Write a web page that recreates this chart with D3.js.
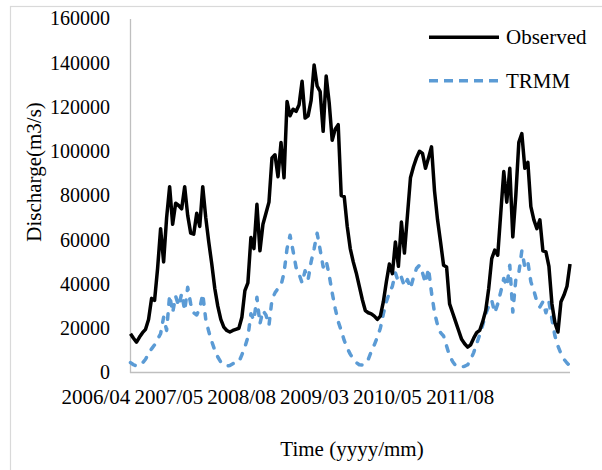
<!DOCTYPE html>
<html>
<head>
<meta charset="utf-8">
<script src="https://cdn.jsdelivr.net/npm/d3@7"></script>
<style>
  body { margin: 0; background: #fff; }
  svg { display: block; font-family: "Liberation Serif", "Times New Roman", serif; }
</style>
</head>
<body>
<svg width="602" height="470"></svg>
<script>
// values (m3/s), one point every step along the time axis
var observed = [
  17500, 15500, 13700, 16000, 18000, 19500, 24000, 33500, 32600, 47000,
  65000, 50000, 70000, 84000, 67000, 76500, 75500, 74000, 84000, 71000,
  63000, 62500, 72000, 66000, 84000, 70000, 59000, 49000, 38000, 30000,
  24000, 20500, 19000, 18300, 19000, 19500, 20000, 25000, 37000, 40500,
  61000, 56000, 76000, 55000, 67000, 72000, 77000, 97000, 98400, 88500,
  104000, 88000, 122500, 116000, 119000, 118000, 121000, 131600, 115000, 116000,
  123000, 139000, 129500, 127000, 109000, 134000, 122000, 105000, 110000, 112000,
  80000, 79500, 66000, 56000, 50000, 45000, 39000, 33000, 28000, 27000,
  26500, 25500, 24000, 25500, 32000, 41000, 49000, 44700, 59000, 48000,
  68000, 54000, 71000, 88000, 93000, 97000, 100000, 99000, 92300, 97000,
  102000, 82000, 69000, 59000, 48500, 47700, 31000, 27000, 23000, 19000,
  15000, 13000, 11500, 12500, 15500, 18000, 19000, 23000, 28000, 38000,
  51500, 55300, 53000, 72000, 90800, 77000, 92300, 61300, 80000, 104000,
  108000, 92300, 95000, 75000, 69000, 65000, 69000, 55000, 54500, 48000,
  31000, 22500, 18300, 32000, 35000, 39000, 49000
];
var trmm = [
  4500, 3500, 2900, 3300, 4300, 6000, 8500, 10700, 12500, 15000,
  17500, 25000, 19000, 35000, 27000, 34500, 30000, 35700, 28000, 38500,
  31000, 27000, 26000, 29000, 35500, 24000, 18500, 14000, 10000, 7000,
  4700, 3500, 2900, 3200, 4000, 4300, 4700, 8000, 11500, 16000,
  26600, 23600, 34000, 22000, 28000, 26000, 21300, 33000, 36000, 38000,
  39400, 45000, 56000, 62000, 55000, 47500, 44500, 40500, 46000, 42000,
  50000, 56000, 62900, 55500, 47700, 50500, 44000, 36000, 29000, 23000,
  19000, 14500, 11000, 8300, 6000, 4500, 3500, 3400, 3900, 6000,
  9500, 12500, 16000, 20000, 26500, 32000, 36000, 39000, 45000, 41000,
  43000, 39000, 42000, 38000, 43000, 47000, 48500, 45000, 40500, 47000,
  36000, 27000, 21500, 18000, 16500, 12000, 7500, 5000, 3100, 2500,
  2500, 2800, 3500, 5800, 9000, 13000, 17000, 21500, 26500, 30000,
  32600, 27000, 31000, 36500, 42500, 39000, 48500, 27300, 42000, 45000,
  55000, 47700, 50000, 41000, 37000, 32000, 29600, 32000, 27000, 32000,
  24000, 16500, 12000, 8500, 6000, 4300, 3000
];
var xLabels = ["2006/04", "2007/05", "2008/08", "2009/03", "2010/05", "2011/08"];
var yTicks = [0, 20000, 40000, 60000, 80000, 100000, 120000, 140000, 160000];
var seriesNames = ["Observed", "TRMM"];

var svg = d3.select("svg");
var blue = "#5b9bd5";

// chart border (runs off the right and bottom of the picture)
svg.append("rect")
  .attr("x", 10.5).attr("y", 6.5)
  .attr("width", 700).attr("height", 600)
  .attr("fill", "none").attr("stroke", "#d9d9d9").attr("stroke-width", 1.2);

var x = d3.scaleLinear().domain([0, observed.length - 1]).range([130.5, 570]);
var y = d3.scaleLinear().domain([0, 160000]).range([372.5, 18.5]);

// y axis
var yAxis = svg.append("g")
  .attr("transform", "translate(130,0)")
  .call(d3.axisLeft(y).tickValues(yTicks).tickSize(0).tickPadding(20).tickFormat(d3.format("d")));
yAxis.select(".domain").attr("stroke", "#bfbfbf").attr("stroke-width", 1.3);
yAxis.selectAll("text")
  .attr("font-family", "Liberation Serif, Times New Roman, serif")
  .attr("font-size", 20).attr("fill", "#000");

// x axis line
svg.append("line")
  .attr("x1", x(0) - 0.5).attr("x2", x(observed.length - 1))
  .attr("y1", y(0)).attr("y2", y(0))
  .attr("stroke", "#bfbfbf").attr("stroke-width", 1.3);

// category labels under the axis
var xb = d3.scaleBand().domain(xLabels).range([59.5, 496.7]);
var xAxis = svg.append("g")
  .attr("transform", "translate(0," + y(0) + ")")
  .call(d3.axisBottom(xb).tickSize(0).tickPadding(17));
xAxis.select(".domain").remove();
xAxis.selectAll("text")
  .attr("font-family", "Liberation Serif, Times New Roman, serif")
  .attr("font-size", 21).attr("fill", "#000");

// axis titles
svg.append("text")
  .attr("x", 352).attr("y", 456)
  .attr("text-anchor", "middle")
  .attr("font-size", 21)
  .text("Time (yyyy/mm)");
svg.append("text")
  .attr("transform", "translate(41,172) rotate(-90)")
  .attr("text-anchor", "middle")
  .attr("font-size", 21)
  .text("Discharge(m3/s)");

var line = d3.line()
  .x(function (d, i) { return x(i); })
  .y(function (d) { return y(d); });

svg.append("path")
  .datum(trmm)
  .attr("d", line)
  .attr("fill", "none")
  .attr("stroke", blue)
  .attr("stroke-width", 3.5)
  .attr("stroke-dasharray", "5.5,9.5")
  .attr("stroke-linecap", "round")
  .attr("stroke-linejoin", "round");

svg.append("path")
  .datum(observed)
  .attr("d", line)
  .attr("fill", "none")
  .attr("stroke", "#000")
  .attr("stroke-width", 3.5)
  .attr("stroke-linejoin", "round");

// legend
var legend = svg.append("g");
var lg = legend.selectAll("g")
  .data(seriesNames).enter()
  .append("g")
  .attr("transform", function (d, i) { return "translate(429," + (37.3 + i * 43.4) + ")"; });
lg.append("line")
  .attr("x1", 0).attr("x2", 70)
  .attr("stroke", function (d, i) { return i === 0 ? "#000" : blue; })
  .attr("stroke-width", 3.5)
  .attr("stroke-dasharray", function (d, i) { return i === 0 ? null : "9,6"; });
lg.append("text")
  .attr("x", 77).attr("y", 7)
  .attr("font-size", 21)
  .text(function (d) { return d; });
</script>
</body>
</html>
